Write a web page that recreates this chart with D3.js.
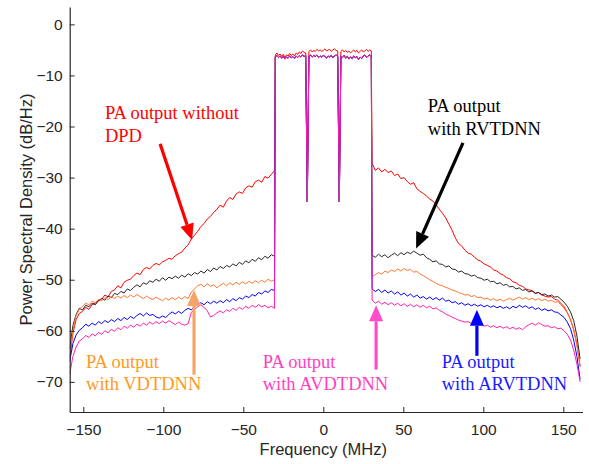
<!DOCTYPE html>
<html>
<head>
<meta charset="utf-8">
<script src="https://cdn.jsdelivr.net/npm/d3@7"></script>
<style>
  body { margin: 0; background: #fff; }
  svg { display: block; }
</style>
</head>
<body>
<svg id="chart" width="589" height="464"></svg>
<script>
// in-band samples, -30..30 MHz step 1
const inbandFreq = d3.range(-30, 31);
const inbandRed = [-6.0, -5.6, -6.1, -5.8, -6.3, -5.9, -6.4, -6.0, -6.2, -5.7, -6.1, -5.8, -6.2, -5.6, -5.9, -5.4, -5.7, -5.2, -5.5, -5.6,
  -34.7,
  -5.3, -5.0, -5.4, -5.1, -5.3, -4.9, -5.2, -5.0, -5.3, -5.1, -4.8, -5.2, -5.0, -4.9, -5.3, -5.0, -4.8, -5.1, -5.2,
  -34.7,
  -5.3, -5.0, -5.4, -5.1, -5.5, -5.2, -5.6, -5.3, -5.0, -5.4, -5.1, -5.6, -5.3, -5.0, -5.4, -5.2, -4.9, -5.3, -5.0, -5.2];
const inbandDpd = [-6.3, -6.1, -6.5, -6.2, -6.6, -6.3, -6.8, -6.4, -6.6, -6.2, -6.5, -6.3, -6.7, -6.2, -6.5, -6.1, -6.4, -6.0, -6.3, -6.1,
  -34.7,
  -6.2, -6.0, -6.4, -6.1, -6.3, -6.0, -6.5, -6.2, -6.4, -6.1, -6.3, -6.6, -6.2, -6.4, -6.1, -6.5, -6.2, -6.0, -6.3,
  -34.7,
  -6.2, -6.5, -6.1, -6.6, -6.3, -6.8, -6.4, -6.7, -6.2, -6.5, -6.3, -6.9, -6.4, -6.7, -6.2, -6.0, -6.5, -6.2, -6.0, -6.3];

// out-of-band, lower side (ends at -30.5 MHz, step 2)
const redLow = [-65.5, -60.5, -57.8, -56.6, -56.2, -55.4, -55.8, -54.9, -54.6, -54.1, -53.8, -53.0, -53.4, -52.3, -52.0, -51.2, -51.6, -50.5, -50.1, -49.9,
  -49.2, -48.7, -49.0, -48.0, -47.6, -47.9, -47.2, -46.8, -47.1, -46.5, -46.2, -45.8, -46.0, -45.3, -44.9, -44.6, -43.8, -43.2, -42.0, -41.3,
  -40.5, -39.6, -39.0, -38.1, -37.6, -36.8, -36.2, -35.4, -35.8, -34.6, -33.9, -34.3, -33.2, -32.8, -33.1, -32.0, -31.6, -31.9, -30.8, -30.5,
  -30.9, -29.8, -30.1, -29.4, -28.6];
const blackLow = [-63.5, -59.0, -56.8, -55.6, -55.9, -55.0, -55.3, -54.6, -54.9, -54.1, -53.7, -54.0, -53.2, -53.5, -52.7, -52.9, -52.3, -52.6, -51.8, -52.1,
  -51.5, -51.0, -51.4, -50.6, -50.9, -50.2, -50.5, -49.9, -50.3, -49.6, -50.1, -49.5, -49.8, -49.3, -49.7, -49.1, -49.5, -48.8, -49.2, -48.6,
  -48.9, -48.3, -48.7, -48.0, -48.4, -47.7, -48.1, -47.4, -47.8, -47.2, -47.5, -46.9, -47.3, -46.6, -47.0, -46.3, -46.7, -46.0, -46.4, -45.7,
  -46.1, -45.4, -45.8, -45.1, -45.4];
const orangeLow = [-65.0, -60.0, -57.0, -55.8, -55.2, -54.6, -54.9, -54.2, -54.5, -53.8, -54.1, -53.5, -53.9, -53.3, -53.7, -53.2, -53.6, -53.1, -53.5, -53.0,
  -53.4, -52.9, -53.3, -53.7, -53.2, -53.6, -53.9, -53.4, -53.8, -54.1, -53.6, -54.0, -53.5, -53.9, -53.4, -53.8, -53.3, -53.7, -52.4, -51.8,
  -51.2, -50.9, -51.4, -50.8, -51.3, -51.0, -51.6, -51.1, -50.7, -51.2, -50.6, -51.0, -50.5, -50.9, -50.4, -50.8, -50.3, -50.7, -50.2, -50.6,
  -50.1, -50.5, -49.9, -50.3, -50.0];
const blueLow = [-66.0, -62.5, -60.8, -59.9, -59.4, -58.7, -59.1, -58.5, -58.9, -58.2, -58.6, -58.0, -58.4, -57.8, -58.2, -57.6, -58.0, -57.4, -57.8, -57.2,
  -57.6, -57.0, -56.6, -57.1, -56.5, -57.0, -56.8, -57.3, -57.5, -57.1, -57.4, -56.8, -56.3, -56.7, -56.2, -56.6, -56.0, -55.6, -55.9, -55.3,
  -54.8, -54.5, -54.9, -54.3, -54.7, -54.2, -54.6, -54.1, -54.5, -53.9, -54.3, -53.7, -54.1, -53.5, -53.8, -53.2, -53.5, -52.9, -53.2, -52.5,
  -52.8, -52.2, -52.5, -51.9, -52.1];
const pinkLow = [-68.5, -65.0, -63.2, -62.0, -61.6, -60.9, -61.3, -60.6, -61.0, -60.3, -60.7, -60.0, -60.4, -59.7, -60.1, -59.4, -59.8, -59.1, -59.5, -58.9,
  -59.3, -58.7, -59.1, -58.5, -58.9, -58.3, -58.7, -58.2, -58.6, -58.1, -58.5, -58.0, -58.4, -58.8, -58.3, -58.7, -58.9, -58.6, -56.4, -55.8,
  -55.3, -54.9, -55.4, -56.1, -57.3, -57.0, -56.5, -56.1, -56.5, -55.9, -56.2, -55.6, -56.0, -55.4, -55.8, -55.2, -55.6, -55.0, -55.4, -54.9,
  -55.3, -55.0, -55.5, -55.2, -55.6];

// out-of-band, upper side (starts at 30.5 MHz, step 2)
const redHigh = [-27.2, -28.6, -28.1, -28.9, -28.4, -29.0, -28.7, -29.6, -29.3, -30.2, -30.0, -30.8, -31.3, -31.0, -32.2, -32.7, -33.1, -33.6, -34.2, -34.6,
  -35.3, -36.2, -37.0, -37.9, -39.1, -40.3, -41.8, -42.9, -43.4, -44.2, -44.8, -45.0, -45.6, -46.1, -46.4, -46.9, -47.2, -47.5, -48.1, -48.3,
  -48.8, -49.1, -49.6, -49.8, -50.4, -50.6, -51.1, -51.3, -51.8, -52.0, -52.1, -52.6, -52.5, -53.0, -53.2, -53.4, -53.3, -53.8, -54.0, -54.6,
  -55.3, -56.4, -57.8, -59.8, -62.6, -67.0];
const blackHigh = [-45.2, -45.6, -45.0, -45.5, -45.1, -45.7, -45.2, -44.8, -45.3, -44.7, -45.1, -44.6, -44.9, -44.4, -44.8, -45.2, -45.0, -45.7, -46.0, -46.5,
  -46.3, -46.9, -47.0, -47.5, -47.3, -47.9, -48.0, -48.5, -48.3, -48.8, -48.9, -49.3, -49.1, -49.6, -49.7, -50.1, -49.9, -50.4, -50.3, -50.8,
  -50.6, -51.1, -50.9, -51.4, -51.3, -51.8, -51.6, -52.1, -51.9, -52.4, -52.2, -52.7, -52.5, -52.9, -52.8, -53.2, -53.0, -53.4, -53.3, -53.8,
  -54.4, -55.2, -56.3, -58.0, -61.0, -65.5];
const orangeHigh = [-49.4, -49.0, -48.6, -48.9, -48.3, -48.6, -48.1, -48.4, -47.9, -48.3, -47.8, -48.2, -48.0, -48.5, -48.4, -48.9, -49.2, -49.6, -50.0, -50.3,
  -50.7, -51.0, -51.2, -51.5, -51.7, -52.0, -52.2, -52.5, -52.7, -53.0, -52.9, -53.3, -53.1, -53.5, -53.4, -53.8, -53.6, -54.0, -53.7, -54.1,
  -53.8, -54.2, -53.9, -53.6, -54.0, -53.7, -53.4, -53.8, -53.5, -53.9, -53.6, -54.0, -53.7, -54.1, -53.8, -54.2, -54.0, -54.4, -54.3, -54.9,
  -55.6, -56.5, -57.8, -59.8, -62.8, -67.0];
const blueHigh = [-51.8, -52.3, -51.9, -52.5, -52.0, -52.6, -52.2, -52.8, -52.4, -53.0, -52.6, -53.2, -52.8, -53.4, -53.0, -53.6, -53.3, -53.8, -53.4, -53.9,
  -53.5, -54.0, -53.6, -54.2, -54.0, -54.5, -54.3, -54.8, -54.5, -55.0, -54.7, -55.1, -54.8, -55.2, -54.9, -55.3, -55.0, -55.4, -55.1, -55.5,
  -55.2, -55.6, -55.3, -55.7, -55.2, -55.5, -55.0, -55.4, -55.1, -55.6, -55.3, -55.8, -55.5, -56.0, -55.7, -56.1, -55.9, -56.3, -56.4, -56.9,
  -57.4, -58.3, -59.6, -61.8, -65.0, -69.5];
const pinkHigh = [-54.0, -54.6, -54.2, -54.8, -54.4, -54.9, -54.5, -55.0, -54.6, -55.1, -54.7, -55.2, -54.8, -55.3, -54.9, -55.4, -55.0, -55.5, -55.2, -55.7,
  -55.5, -56.0, -56.3, -56.7, -57.0, -57.3, -57.6, -57.9, -58.1, -58.3, -58.2, -58.6, -58.5, -58.9, -58.7, -59.1, -58.9, -59.3, -59.0, -59.4,
  -59.1, -59.5, -59.2, -59.6, -59.3, -59.7, -59.4, -59.8, -59.2, -58.8, -58.5, -58.9, -58.4, -58.8, -59.1, -59.0, -59.4, -59.2, -59.6, -59.5,
  -60.0, -60.7, -61.8, -63.8, -66.5, -70.0];

const xTicks = [-150, -100, -50, 0, 50, 100, 150];
const yTicks = [0, -10, -20, -30, -40, -50, -60, -70];

// annotations in data units: [text lines], text anchor (f, dB), arrow from -> tip
const notes = [
  {lines: ["PA output without", "DPD"], tx: -136.5, ty: -18.6, from: [-102, -23.4], to: [-82, -42.2], text: "#ff0000", arrow: "#ff0000"},
  {lines: ["PA output", "with RVTDNN"], tx: 65.3, ty: -17.2, from: [87.3, -23.2], to: [58, -43.9], text: "#000000", arrow: "#000000"},
  {lines: ["PA output", "with VDTDNN"], tx: -148.3, ty: -67.3, from: [-80.8, -68.6], to: [-80.8, -52.0], text: "#ff9922", arrow: "#f4a468"},
  {lines: ["PA output", "with AVDTDNN"], tx: -37.9, ty: -67.3, from: [33, -67.6], to: [33, -55.0], text: "#ff3fc0", arrow: "#ff4cc8"},
  {lines: ["PA output", "with ARVTDNN"], tx: 74, ty: -67.3, from: [96, -64.9], to: [96, -55.9], text: "#1a1aff", arrow: "#0000ff"}
];

const series = [
  {name: "no DPD", color: "#ff0000", low: redLow, inband: inbandRed, high: redHigh},
  {name: "RVTDNN", color: "#262626", low: blackLow, inband: inbandDpd, high: blackHigh},
  {name: "VDTDNN", color: "#ff7530", low: orangeLow, inband: inbandDpd, high: orangeHigh},
  {name: "ARVTDNN", color: "#0000ff", low: blueLow, inband: inbandDpd, high: blueHigh},
  {name: "AVDTDNN", color: "#ff1fb0", low: pinkLow, inband: inbandDpd, high: pinkHigh}
];

const svg = d3.select("#chart");
const x = d3.scaleLinear().domain([-158.5, 162]).range([69.7, 582.5]);
const y = d3.scaleLinear().domain([-75.9, 3.4]).range([412, 7]);

svg.append("clipPath").attr("id", "plot-clip")
  .append("rect")
  .attr("x", x.range()[0]).attr("y", y.range()[1])
  .attr("width", x.range()[1] - x.range()[0])
  .attr("height", y.range()[0] - y.range()[1]);

const line = d3.line().x(d => x(d[0])).y(d => y(d[1]));

const toPoints = s => [
  ...s.low.map((v, i) => [-30.5 - 2 * (s.low.length - 1 - i), v]),
  ...inbandFreq.map((f, i) => [f, s.inband[i]]),
  ...s.high.map((v, i) => [30.5 + 2 * i, v])
];

svg.append("g").attr("clip-path", "url(#plot-clip)")
  .selectAll("path")
  .data(series)
  .join("path")
  .attr("d", s => line(toPoints(s)))
  .attr("fill", "none")
  .attr("stroke", s => s.color)
  .attr("stroke-width", 1)
  .attr("stroke-linejoin", "round");

// axes, ticks pointing inward
const xAxis = svg.append("g")
  .attr("transform", `translate(0,${y.range()[0]})`)
  .call(d3.axisBottom(x).tickValues(xTicks).tickSizeInner(-5).tickSizeOuter(0).tickPadding(12));
const yAxis = svg.append("g")
  .attr("transform", `translate(${x.range()[0]},0)`)
  .call(d3.axisLeft(y).tickValues(yTicks).tickSizeInner(-5).tickSizeOuter(0).tickPadding(7));

[xAxis, yAxis].forEach(g => {
  g.select(".domain").attr("stroke", "#262626").attr("stroke-width", 1.2);
  g.selectAll(".tick line").attr("stroke", "#262626");
  g.selectAll(".tick text")
    .attr("fill", "#262626")
    .style("font-family", "'Liberation Sans', Arial, sans-serif")
    .style("font-size", "15.5px");
});

svg.append("text")
  .attr("x", x(0)).attr("y", 455)
  .attr("text-anchor", "middle")
  .attr("fill", "#262626")
  .style("font-family", "'Liberation Sans', Arial, sans-serif")
  .style("font-size", "16.5px")
  .text("Frequency (MHz)");

svg.append("text")
  .attr("transform", `translate(32,${(y.range()[0] + y.range()[1]) / 2}) rotate(-90)`)
  .attr("text-anchor", "middle")
  .attr("fill", "#262626")
  .style("font-family", "'Liberation Sans', Arial, sans-serif")
  .style("font-size", "16.5px")
  .text("Power Spectral Density (dB/Hz)");

// arrows and labels
const drawArrow = (g, p0, p1, color) => {
  const [x0, y0] = p0, [x1, y1] = p1;
  const len = Math.hypot(x1 - x0, y1 - y0);
  const ux = (x1 - x0) / len, uy = (y1 - y0) / len;
  const head = 16, half = 7;
  const bx = x1 - ux * head, by = y1 - uy * head;
  g.append("line")
    .attr("x1", x0).attr("y1", y0).attr("x2", bx).attr("y2", by)
    .attr("stroke", color).attr("stroke-width", 3.2);
  g.append("path")
    .attr("d", `M${x1},${y1}L${bx - uy * half},${by + ux * half}L${bx + uy * half},${by - ux * half}Z`)
    .attr("fill", color);
};

const ann = svg.append("g");
notes.forEach(n => {
  drawArrow(ann, [x(n.from[0]), y(n.from[1])], [x(n.to[0]), y(n.to[1])], n.arrow);
  const t = ann.append("text")
    .attr("x", x(n.tx)).attr("y", y(n.ty))
    .attr("fill", n.text)
    .style("font-family", "'Liberation Serif', 'Times New Roman', serif")
    .style("font-size", "18.5px");
  n.lines.forEach((l, i) => {
    t.append("tspan").attr("x", x(n.tx)).attr("dy", i === 0 ? 0 : 22.3).text(l);
  });
});
</script>
</body>
</html>
